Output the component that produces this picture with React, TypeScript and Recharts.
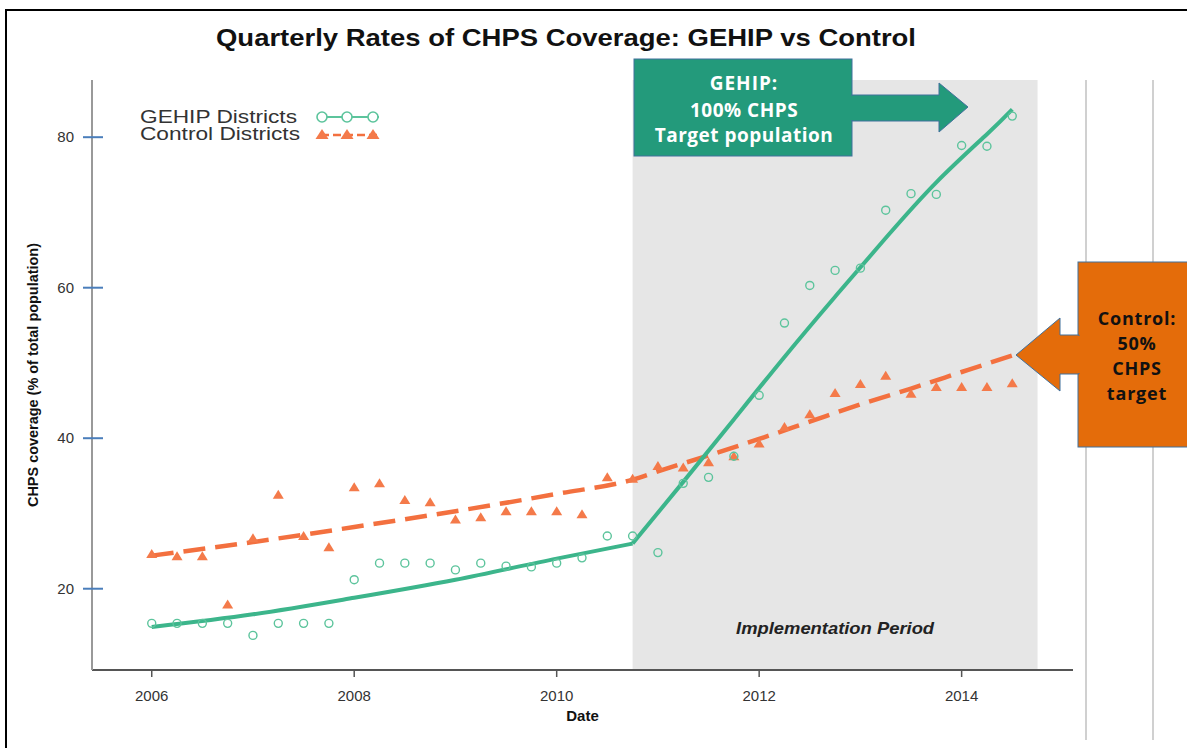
import React from 'react';
import {
  ComposedChart, XAxis, YAxis, Line, Scatter, ReferenceArea, Legend,
} from 'recharts';

// ---------- data ----------
const quarters = [
  2006, 2006.25, 2006.5, 2006.75, 2007, 2007.25, 2007.5, 2007.75,
  2008, 2008.25, 2008.5, 2008.75, 2009, 2009.25, 2009.5, 2009.75,
  2010, 2010.25, 2010.5, 2010.75, 2011, 2011.25, 2011.5, 2011.75,
  2012, 2012.25, 2012.5, 2012.75, 2013, 2013.25, 2013.5, 2013.75,
  2014, 2014.25, 2014.5,
];
const gehipRates = [
  15.4, 15.4, 15.4, 15.4, 13.8, 15.4, 15.4, 15.4,
  21.2, 23.4, 23.4, 23.4, 22.5, 23.4, 23.0, 22.9,
  23.4, 24.1, 27.0, 27.0, 24.8, 34.0, 34.8, 37.6,
  45.7, 55.3, 60.3, 62.3, 62.6, 70.3, 72.5, 72.4,
  78.9, 78.8, 82.8,
];
const controlRates = [
  24.6, 24.3, 24.3, 17.9, 26.7, 32.5, 27.0, 25.5,
  33.5, 34.0, 31.8, 31.5, 29.2, 29.5, 30.3, 30.3,
  30.3, 29.9, 34.8, 34.6, 36.3, 36.1, 36.8, 37.6,
  39.3, 41.5, 43.2, 46.0, 47.2, 48.3, 45.9, 46.8,
  46.8, 46.8, 47.3,
];
const gehipTrendPreYears = [2006, 2007, 2008, 2009, 2010, 2010.75];
const gehipTrendPreValues = [14.9, 16.6, 18.8, 21.2, 24.0, 26.0];
const gehipTrendPostYears = [2010.75, 2011.25, 2011.75, 2012.25, 2012.75, 2013.25, 2013.75, 2014.25, 2014.5];
const gehipTrendPostValues = [26.0, 34.2, 42.5, 50.8, 58.8, 66.6, 74.0, 80.4, 83.7];
const controlTrendYears = [2006, 2007, 2008, 2009, 2010, 2010.75, 2011, 2011.5, 2012, 2012.5, 2013, 2013.5, 2014, 2014.5];
const controlTrendValues = [24.4, 26.2, 28.2, 30.3, 32.6, 34.5, 35.6, 37.7, 39.9, 42.2, 44.5, 46.6, 48.8, 51.0];
const xTicks = [2006, 2008, 2010, 2012, 2014];
const yTicks = [20, 40, 60, 80];
const implementationPeriod = [2010.75, 2014.75];
const seriesNames = ['GEHIP Districts', 'Control Districts'];

const zip = (xs: number[], ys: number[]) => xs.map((x, i) => ({ x, y: ys[i] }));
const gehipPoints = zip(quarters, gehipRates);
const controlPoints = zip(quarters, controlRates);
const gehipPre = zip(gehipTrendPreYears, gehipTrendPreValues);
const gehipPost = zip(gehipTrendPostYears, gehipTrendPostValues);
const controlTrend = zip(controlTrendYears, controlTrendValues);

// ---------- styles ----------
const GREEN_LINE = '#3cb58b';
const GREEN_PT = '#5cc49c';
const ORANGE_LINE = '#f3703f';
const ORANGE_PT = '#f47a4a';
const FONT = '"Liberation Sans", Arial, Helvetica, sans-serif';
const CALLOUT_FONT = '"Open Sans", sans-serif';

const CircleShape = (p: any) => (
  <circle cx={p.cx} cy={p.cy} r={4} fill="none" stroke={GREEN_PT} strokeWidth={1.4} />
);
const TriangleShape = (p: any) => (
  <path
    d={`M${p.cx},${p.cy - 5} L${p.cx + 5.5},${p.cy + 4} L${p.cx - 5.5},${p.cy + 4} Z`}
    fill={ORANGE_PT}
  />
);

const YTick = (p: any) => {
  const { x, y, payload } = p;
  return (
    <g>
      <line x1={x - 9} x2={x + 11} y1={y} y2={y} stroke="#4a7ebb" strokeWidth={2} />
      <text x={x - 18} y={y} dy="0.35em" textAnchor="end" fontSize={15} fill="#333" fontFamily={FONT}>
        {payload.value}
      </text>
    </g>
  );
};

const LegendContent = () => (
  <svg width={260} height={42} style={{ display: 'block' }}>
    <text x={0} y={17} fontSize={18} fill="#333" fontFamily={FONT} textLength={157} lengthAdjust="spacingAndGlyphs">{seriesNames[0]}</text>
    <text x={0} y={34} fontSize={18} fill="#333" fontFamily={FONT} textLength={160} lengthAdjust="spacingAndGlyphs">{seriesNames[1]}</text>
    <line x1={181} x2={239} y1={11} y2={11} stroke={GREEN_PT} strokeWidth={2} />
    {[182, 207, 233].map((cx) => (
      <circle key={cx} cx={cx} cy={11} r={5} fill="#fff" stroke={GREEN_PT} strokeWidth={1.6} />
    ))}
    <line x1={181} x2={239} y1={29} y2={29} stroke={ORANGE_LINE} strokeWidth={2.5} strokeDasharray="8 4" />
    {[182, 207, 233].map((cx) => (
      <path key={cx} d={`M${cx},${23} L${cx + 6.5},${33} L${cx - 6.5},${33} Z`} fill={ORANGE_PT} />
    ))}
  </svg>
);

const ImplLabel = (p: any) => {
  const vb = p.viewBox;
  return (
    <text
      x={vb.x + vb.width / 2}
      y={vb.y + vb.height - 36}
      textAnchor="middle"
      fontSize={17}
      fontWeight="bold"
      fontStyle="italic"
      fill="#222"
      fontFamily={FONT}
      textLength={198}
      lengthAdjust="spacingAndGlyphs"
    >
      Implementation Period
    </text>
  );
};

const YLabel = (p: any) => {
  const vb = p.viewBox;
  const cx = 33;
  const cy = vb.y + vb.height / 2;
  return (
    <text
      x={cx}
      y={cy}
      transform={`rotate(-90 ${cx} ${cy})`}
      textAnchor="middle"
      dominantBaseline="central"
      fontSize={14.5}
      fontWeight="bold"
      fill="#111"
      fontFamily={FONT}
      textLength={264}
      lengthAdjust="spacingAndGlyphs"
    >
      CHPS coverage (% of total population)
    </text>
  );
};

export default function App() {
  return (
    <div style={{ position: 'absolute', left: 0, top: 0, width: 1187, height: 748, background: '#fff', fontFamily: FONT }}>
      <ComposedChart
        width={1187}
        height={748}
        margin={{ top: 80, right: 114, bottom: 48, left: 62 }}
      >
        <XAxis
          xAxisId={0}
          type="number"
          dataKey="x"
          domain={[2005.41, 2015.1]}
          allowDataOverflow
          ticks={xTicks}
          height={30}
          tickSize={7}
          tickMargin={13}
          axisLine={{ stroke: '#555', strokeWidth: 2 }}
          tickLine={{ stroke: '#555', strokeWidth: 1.5 }}
          tick={{ fontSize: 15, fill: '#333', fontFamily: FONT }}
          label={{ value: 'Date', position: 'bottom', offset: 10, fontSize: 15, fontWeight: 'bold', fill: '#111', fontFamily: FONT }}
        />
        <XAxis
          xAxisId="top"
          orientation="top"
          type="number"
          dataKey="x"
          domain={[2005.41, 2015.1]}
          allowDataOverflow
          ticks={xTicks}
          height={0}
          tickSize={7}
          tick={false}
          axisLine={{ stroke: '#555', strokeWidth: 2 }}
          tickLine={{ stroke: '#555', strokeWidth: 1.5 }}
        />
        <YAxis
          yAxisId={0}
          type="number"
          dataKey="y"
          domain={[9.2, 87.6]}
          allowDataOverflow
          ticks={yTicks}
          width={30}
          tickSize={0}
          tickMargin={0}
          tickLine={false}
          axisLine={{ stroke: '#999', strokeWidth: 2 }}
          tick={<YTick />}
          label={<YLabel />}
        />
        <YAxis
          yAxisId="right"
          orientation="right"
          type="number"
          dataKey="y"
          domain={[9.2, 87.6]}
          allowDataOverflow
          ticks={yTicks}
          width={0}
          tickSize={9}
          tick={false}
          axisLine={{ stroke: '#555', strokeWidth: 2 }}
          tickLine={{ stroke: '#555', strokeWidth: 1.5 }}
        />
        <ReferenceArea
          x1={implementationPeriod[0]}
          x2={implementationPeriod[1]}
          fill="#e6e6e6"
          fillOpacity={1}
          stroke="none"
          label={<ImplLabel />}
        />
        <Legend
          layout="vertical"
          align="center"
          verticalAlign="middle"
          content={<LegendContent />}
          wrapperStyle={{ position: 'absolute', left: 140, top: 106, width: 260, height: 42 }}
        />
        <Line
          data={controlTrend}
          dataKey="y"
          type="monotone"
          stroke={ORANGE_LINE}
          strokeWidth={4.5}
          strokeDasharray="22 10"
          dot={false}
          activeDot={false}
          isAnimationActive={false}
          legendType="none"
        />
        <Line
          data={gehipPre}
          dataKey="y"
          type="monotone"
          stroke={GREEN_LINE}
          strokeWidth={4}
          dot={false}
          activeDot={false}
          isAnimationActive={false}
          legendType="none"
        />
        <Line
          data={gehipPost}
          dataKey="y"
          type="natural"
          stroke={GREEN_LINE}
          strokeWidth={4}
          dot={false}
          activeDot={false}
          isAnimationActive={false}
          legendType="none"
        />
        <Scatter data={controlPoints} dataKey="y" shape={<TriangleShape />} isAnimationActive={false} />
        <Scatter data={gehipPoints} dataKey="y" shape={<CircleShape />} isAnimationActive={false} />
      </ComposedChart>

      {/* slide decorations and callouts */}
      <svg width={1187} height={748} style={{ position: 'absolute', left: 0, top: 0, pointerEvents: 'none' }}>
        <line x1={5} x2={1187} y1={10} y2={10} stroke="#000" strokeWidth={2} />
        <line x1={6} x2={6} y1={10} y2={748} stroke="#000" strokeWidth={2} />
        <line x1={1086} x2={1086} y1={80} y2={740} stroke="#d0d0d0" strokeWidth={2} />
        <line x1={1153} x2={1153} y1={80} y2={740} stroke="#d0d0d0" strokeWidth={2} />
        <text x={566} y={46} textAnchor="middle" fontSize={24} fontWeight="bold" fill="#111" fontFamily={FONT}
          textLength={700} lengthAdjust="spacingAndGlyphs">
          Quarterly Rates of CHPS Coverage: GEHIP vs Control
        </text>

        <rect x={634} y={59} width={218} height={97} fill="#239a7b" stroke="#41719c" strokeWidth={1} />
        <polygon points="852,95 939,95 939,83 968,107 939,132 939,121 852,121" fill="#239a7b" stroke="#41719c" strokeWidth={1} />
        <rect x={840} y={96} width={14} height={24} fill="#239a7b" />
        <g fontFamily={CALLOUT_FONT} fontWeight="bold" fontSize={19} fill="#fff" textAnchor="middle">
          <text x={744} y={90} letterSpacing={1}>GEHIP:</text>
          <text x={744} y={117} letterSpacing={0.5}>100% CHPS</text>
          <text x={744} y={142} letterSpacing={0.5}>Target population</text>
        </g>

        <rect x={1078} y={262} width={120} height={185} fill="#e46c0a" stroke="#41719c" strokeWidth={1} />
        <polygon points="1079,335 1060,335 1060,318 1016,355 1060,391 1060,374 1079,374" fill="#e46c0a" stroke="#41719c" strokeWidth={1} />
        <rect x={1076} y={336} width={6} height={37} fill="#e46c0a" />
        <g fontFamily={CALLOUT_FONT} fontWeight="bold" fontSize={18} fill="#111" textAnchor="middle">
          <text x={1137} y={325} letterSpacing={0.8}>Control:</text>
          <text x={1137} y={350} letterSpacing={0.8}>50%</text>
          <text x={1137} y={375} letterSpacing={0.8}>CHPS</text>
          <text x={1137} y={400} letterSpacing={0.8}>target</text>
        </g>
      </svg>
    </div>
  );
}
